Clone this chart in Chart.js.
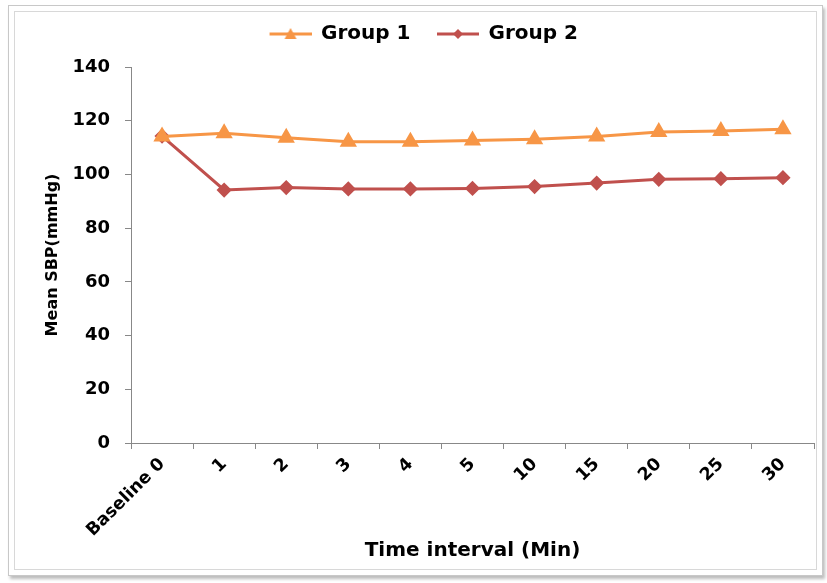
<!DOCTYPE html>
<html>
<head>
<meta charset="utf-8">
<script src="https://cdn.jsdelivr.net/npm/chart.js@4/dist/chart.umd.min.js"></script>
<style>
  html, body { margin: 0; padding: 0; background: #fff; }
  body { width: 827px; height: 583px; position: relative; overflow: hidden; }
  .frame {
    position: absolute; left: 8px; top: 5px; width: 815px; height: 571px;
    border: 1px solid #c8c8c8;
    box-shadow: inset 0 0 0 5px #fff, inset 0 0 0 6px #d8d8d8, 2px 3px 3px #bdbdbd;
    box-sizing: border-box;
  }
  #wrap { position: absolute; left: 0; top: 0; width: 827px; height: 583px; }
</style>
</head>
<body>
<div class="frame"></div>
<div id="wrap"><canvas id="chart" width="827" height="583"></canvas></div>
<script>
const categories = ['Baseline 0', '1', '2', '3', '4', '5', '10', '15', '20', '25', '30'];
const group1 = [114.1, 115.3, 113.7, 112.2, 112.2, 112.6, 113.1, 114.1, 115.8, 116.2, 116.8];
const group2 = [114.3, 94.2, 95.1, 94.6, 94.6, 94.8, 95.5, 96.8, 98.2, 98.4, 98.8];
const yTicks = [0, 20, 40, 60, 80, 100, 120, 140];

const orange = '#F79646';
const red = '#C0504D';
const font = '"DejaVu Sans", Verdana, sans-serif';

const PAD_LEFT = 17;

// Legend swatch: short line with the series marker in the middle,
// with a transparent margin on the left to space the legend items apart
const SWATCH_MARGIN = 17, SWATCH_LINE = 42;
function legendSwatch(color, style) {
  const c = document.createElement('canvas');
  c.width = SWATCH_MARGIN + SWATCH_LINE; c.height = 14;
  const g = c.getContext('2d');
  const x0 = SWATCH_MARGIN, mid = x0 + SWATCH_LINE / 2;
  g.strokeStyle = color; g.lineWidth = 3;
  g.beginPath(); g.moveTo(x0, 7); g.lineTo(x0 + SWATCH_LINE, 7); g.stroke();
  g.fillStyle = color;
  g.beginPath();
  if (style === 'triangle') {
    g.moveTo(mid, 1); g.lineTo(mid + 6, 12); g.lineTo(mid - 6, 12);
  } else {
    g.moveTo(mid, 2); g.lineTo(mid + 5, 7); g.lineTo(mid, 12); g.lineTo(mid - 5, 7);
  }
  g.closePath(); g.fill();
  return c;
}
const swatches = [legendSwatch(orange, 'triangle'), legendSwatch(red, 'diamond')];

// Leave extra room between the legend and the plot area
const legendGap = {
  id: 'legendGap',
  afterInit(chart) {
    const legend = chart.legend;
    const fit = legend.fit.bind(legend);
    legend.fit = function () { fit(); this.height += 13; };
  }
};

new Chart(document.getElementById('chart'), {
  type: 'line',
  data: {
    labels: categories,
    datasets: [
      {
        label: 'Group 1', data: group1,
        borderColor: orange, backgroundColor: orange,
        borderWidth: 3, pointStyle: 'triangle', pointRadius: 7, pointHoverRadius: 7,
        tension: 0
      },
      {
        label: 'Group 2', data: group2,
        borderColor: red, backgroundColor: red,
        borderWidth: 3, pointStyle: 'rectRot', pointRadius: 5.5, pointHoverRadius: 5.5,
        tension: 0
      }
    ]
  },
  plugins: [legendGap],
  options: {
    responsive: false,
    animation: false,
    layout: { padding: { left: PAD_LEFT, right: 13, top: 14, bottom: 0 } },
    plugins: {
      tooltip: { enabled: false },
      legend: {
        position: 'top',
        labels: {
          usePointStyle: true,
          pointStyleWidth: SWATCH_MARGIN + SWATCH_LINE - 1,
          padding: 10,
          color: '#000',
          font: { family: font, size: 20, weight: 'bold' },
          generateLabels(chart) {
            return chart.data.datasets.map((ds, i) => ({
              text: ds.label,
              pointStyle: swatches[i],
              fillStyle: ds.borderColor,
              strokeStyle: ds.borderColor,
              lineWidth: 0,
              datasetIndex: i,
              hidden: false
            }));
          }
        }
      }
    },
    scales: {
      x: {
        offset: true,
        grid: { offset: true, drawOnChartArea: false, drawTicks: true, tickLength: 6, color: '#888' },
        border: { color: '#888', width: 1 },
        ticks: {
          color: '#000', minRotation: 45, maxRotation: 45, padding: 5,
          font: { family: font, size: 17.5, weight: 'bold' }
        },
        title: {
          display: true, text: 'Time interval (Min)', color: '#000',
          font: { family: font, size: 20, weight: 'bold' }, padding: { top: 0, bottom: 20 }
        },
        afterFit(scale) { scale.height = 140; }
      },
      y: {
        min: 0, max: 140,
        afterBuildTicks(scale) { scale.ticks = yTicks.map(v => ({ value: v })); },
        grid: { drawOnChartArea: false, drawTicks: true, tickLength: 6, color: '#888' },
        border: { color: '#888', width: 1 },
        ticks: {
          color: '#000', padding: 15,
          font: { family: font, size: 18, weight: 'bold' }
        },
        title: {
          display: true, text: 'Mean SBP(mmHg)', color: '#000',
          font: { family: font, size: 16, weight: 'bold' }, padding: { top: 43 - PAD_LEFT, bottom: 0 }
        },
        afterFit(scale) { scale.width = 131 - PAD_LEFT; }
      }
    }
  }
});
</script>
</body>
</html>
